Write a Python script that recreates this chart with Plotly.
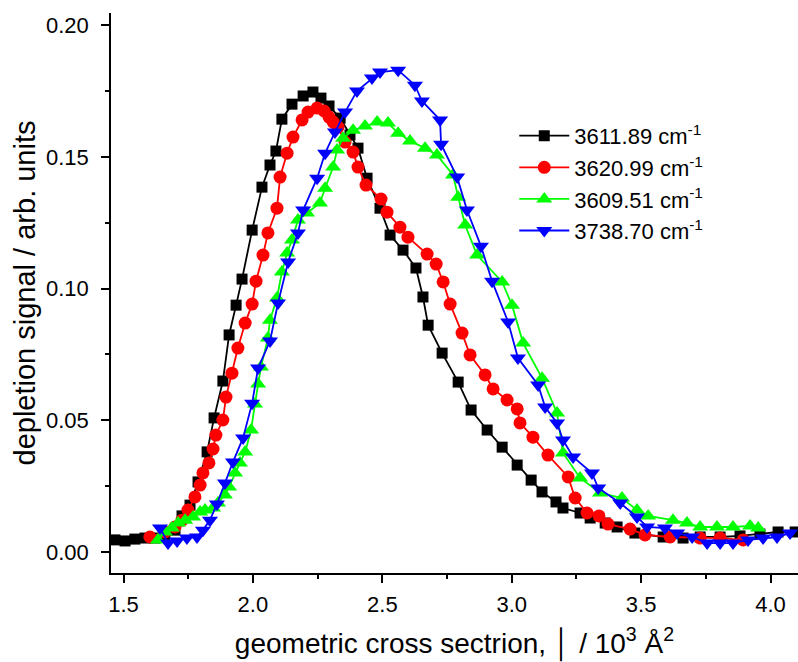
import plotly.graph_objects as go

# ---- data (x: geometric cross section / 10^3 Å^2, y: depletion signal) ----
x_3611 = [1.467, 1.506, 1.544, 1.583, 1.622, 1.660, 1.699, 1.726, 1.757, 1.788, 1.823, 1.850, 1.884, 1.908,
          1.935, 1.958, 1.997, 2.035, 2.066, 2.089, 2.112, 2.151, 2.194, 2.232, 2.263, 2.294, 2.337, 2.375,
          2.406, 2.441, 2.491, 2.530, 2.580, 2.630, 2.657, 2.677, 2.731, 2.793, 2.843, 2.905, 2.963, 3.021,
          3.075, 3.117, 3.171, 3.198, 3.264, 3.303, 3.361, 3.407, 3.476, 3.585, 3.662, 3.728, 3.805, 3.882,
          3.959, 4.029, 4.095]
y_3611 = [0.0046, 0.0042, 0.0049, 0.0053, 0.0053, 0.0057, 0.0083, 0.0137, 0.0178, 0.0266, 0.0380, 0.0509,
          0.0649, 0.0824, 0.0937, 0.1036, 0.1222, 0.1385, 0.1469, 0.1522, 0.1643, 0.1700, 0.1731, 0.1746,
          0.1723, 0.1693, 0.1647, 0.1583, 0.1533, 0.1419, 0.1305, 0.1203, 0.1146, 0.1078, 0.0968, 0.0861,
          0.0755, 0.0645, 0.0539, 0.0463, 0.0398, 0.0330, 0.0273, 0.0228, 0.0190, 0.0167, 0.0148, 0.0129,
          0.0110, 0.0095, 0.0072, 0.0057, 0.0053, 0.0057, 0.0057, 0.0061, 0.0068, 0.0076, 0.0076]

x_3620 = [1.602, 1.660, 1.699, 1.726, 1.749, 1.776, 1.796, 1.807, 1.830, 1.846, 1.857, 1.884, 1.896, 1.919,
          1.942, 1.970, 1.997, 2.012, 2.039, 2.058, 2.093, 2.105, 2.132, 2.155, 2.190, 2.213, 2.248, 2.275,
          2.294, 2.310, 2.329, 2.356, 2.387, 2.406, 2.437, 2.495, 2.518, 2.568, 2.599, 2.673, 2.708, 2.735,
          2.762, 2.808, 2.839, 2.897, 2.928, 2.982, 3.021, 3.032, 3.082, 3.140, 3.218, 3.245, 3.291, 3.337,
          3.372, 3.457, 3.515, 3.612, 3.728, 3.805, 3.894]
y_3620 = [0.0057, 0.0076, 0.0095, 0.0121, 0.0159, 0.0209, 0.0254, 0.0300, 0.0338, 0.0391, 0.0444, 0.0501,
          0.0588, 0.0679, 0.0774, 0.0869, 0.0941, 0.1028, 0.1127, 0.1211, 0.1305, 0.1423, 0.1514, 0.1575,
          0.1640, 0.1670, 0.1685, 0.1674, 0.1651, 0.1632, 0.1613, 0.1556, 0.1518, 0.1461, 0.1393, 0.1340,
          0.1290, 0.1233, 0.1195, 0.1131, 0.1093, 0.1025, 0.0941, 0.0831, 0.0748, 0.0672, 0.0619, 0.0577,
          0.0543, 0.0490, 0.0436, 0.0368, 0.0285, 0.0205, 0.0148, 0.0137, 0.0106, 0.0087, 0.0065, 0.0057,
          0.0053, 0.0053, 0.0046]

x_3609 = [1.633, 1.660, 1.687, 1.711, 1.738, 1.769, 1.796, 1.815, 1.846, 1.865, 1.892, 1.908, 1.931, 1.950,
          1.970, 1.993, 2.008, 2.020, 2.031, 2.058, 2.066, 2.093, 2.112, 2.132, 2.151, 2.174, 2.209, 2.259,
          2.279, 2.310, 2.325, 2.348, 2.387, 2.433, 2.480, 2.522, 2.561, 2.607, 2.665, 2.711, 2.773, 2.793,
          2.820, 2.866, 2.963, 3.001, 3.044, 3.117, 3.175, 3.198, 3.264, 3.341, 3.426, 3.484, 3.527, 3.623,
          3.677, 3.728, 3.793, 3.855, 3.921, 3.952]
y_3609 = [0.0046, 0.0076, 0.0091, 0.0110, 0.0121, 0.0133, 0.0152, 0.0159, 0.0167, 0.0186, 0.0216, 0.0247,
          0.0300, 0.0338, 0.0380, 0.0463, 0.0562, 0.0638, 0.0702, 0.0812, 0.0880, 0.0964, 0.1063, 0.1135,
          0.1184, 0.1260, 0.1287, 0.1325, 0.1381, 0.1461, 0.1526, 0.1571, 0.1601, 0.1617, 0.1632, 0.1628,
          0.1590, 0.1560, 0.1533, 0.1507, 0.1431, 0.1347, 0.1241, 0.1127, 0.1025, 0.0937, 0.0793, 0.0660,
          0.0528, 0.0376, 0.0281, 0.0224, 0.0205, 0.0159, 0.0137, 0.0121, 0.0110, 0.0095, 0.0095, 0.0095,
          0.0099, 0.0091]

x_3738 = [1.641, 1.672, 1.707, 1.745, 1.784, 1.807, 1.834, 1.861, 1.892, 1.923, 1.962, 1.997, 2.020, 2.066,
          2.097, 2.136, 2.174, 2.194, 2.248, 2.279, 2.317, 2.356, 2.402, 2.460, 2.491, 2.561, 2.626, 2.653,
          2.723, 2.727, 2.789, 2.827, 2.881, 2.924, 2.986, 3.024, 3.102, 3.129, 3.175, 3.198, 3.237, 3.310,
          3.334, 3.419, 3.484, 3.523, 3.592, 3.639, 3.697, 3.755, 3.805, 3.855, 3.913, 3.971, 4.025, 4.075]
y_3738 = [0.0091, 0.0034, 0.0042, 0.0053, 0.0057, 0.0083, 0.0121, 0.0182, 0.0262, 0.0342, 0.0433, 0.0565,
          0.0698, 0.0801, 0.0945, 0.1101, 0.1211, 0.1298, 0.1419, 0.1514, 0.1594, 0.1670, 0.1750, 0.1799,
          0.1822, 0.1829, 0.1772, 0.1712, 0.1640, 0.1548, 0.1423, 0.1298, 0.1161, 0.1028, 0.0873, 0.0736,
          0.0634, 0.0550, 0.0490, 0.0425, 0.0361, 0.0300, 0.0243, 0.0186, 0.0133, 0.0095, 0.0091, 0.0072,
          0.0057, 0.0034, 0.0034, 0.0034, 0.0046, 0.0053, 0.0057, 0.0072]

series_names = ["3611.89 cm<sup>-1</sup>", "3620.99 cm<sup>-1</sup>",
                "3609.51 cm<sup>-1</sup>", "3738.70 cm<sup>-1</sup>"]
x_ticks = [1.5, 2.0, 2.5, 3.0, 3.5, 4.0]
y_ticks = [0.00, 0.05, 0.10, 0.15, 0.20]

styles = [
    dict(color="#000000", symbol="square", size=11),
    dict(color="#ff0000", symbol="circle", size=13),
    dict(color="#00ff00", symbol="triangle-up", size=14),
    dict(color="#0000ff", symbol="triangle-down", size=14),
]
xs = [x_3611, x_3620, x_3609, x_3738]
ys = [y_3611, y_3620, y_3609, y_3738]

FONT = "Liberation Sans, Arial, sans-serif"

fig = go.Figure()
for x, y, name, st in zip(xs, ys, series_names, styles):
    fig.add_trace(go.Scatter(
        x=x, y=y, name=name, mode="lines+markers",
        line=dict(color=st["color"], width=1.8),
        marker=dict(color=st["color"], symbol=st["symbol"], size=st["size"], line=dict(width=0)),
    ))

fig.update_layout(
    width=798, height=662,
    margin=dict(l=111, r=0, t=13, b=89),
    paper_bgcolor="white", plot_bgcolor="white",
    font=dict(family=FONT, color="black"),
    showlegend=True,
    legend=dict(x=0.587, y=0.818, xanchor="left", yanchor="top",
                font=dict(family=FONT, size=22, color="black"),
                bgcolor="rgba(0,0,0,0)", tracegroupgap=0, itemwidth=50),
    xaxis=dict(
        range=[1.4517, 4.106], showgrid=False, zeroline=False,
        showline=True, linecolor="black", linewidth=1.5,
        ticks="outside", ticklen=8, tickwidth=1.5, tickcolor="black",
        tickvals=x_ticks, ticktext=[f"{v:.1f}" for v in x_ticks],
        tickfont=dict(family=FONT, size=22, color="black"),
        ticklabelstandoff=3,
        minor=dict(ticks="outside", ticklen=4, tickwidth=1.5, tickcolor="black", dtick=0.25, tick0=1.5),
        title=dict(text="geometric cross sectrion, \u2502 / 10<sup>3</sup> \u00c5<sup>2</sup>",
                   font=dict(family=FONT, size=28, color="black"), standoff=20),
    ),
    yaxis=dict(
        range=[-0.00797, 0.2046], showgrid=False, zeroline=False,
        showline=True, linecolor="black", linewidth=1.5,
        ticks="outside", ticklen=8, tickwidth=1.5, tickcolor="black",
        tickvals=y_ticks, ticktext=[f"{v:.2f}" for v in y_ticks],
        tickfont=dict(family=FONT, size=22, color="black"),
        ticklabelstandoff=8,
        minor=dict(ticks="outside", ticklen=4, tickwidth=1.5, tickcolor="black", dtick=0.025, tick0=0),
        title=dict(text="depletion signal / arb. units",
                   font=dict(family=FONT, size=29, color="black"), standoff=2),
    ),
)

fig.write_html("out.html")
